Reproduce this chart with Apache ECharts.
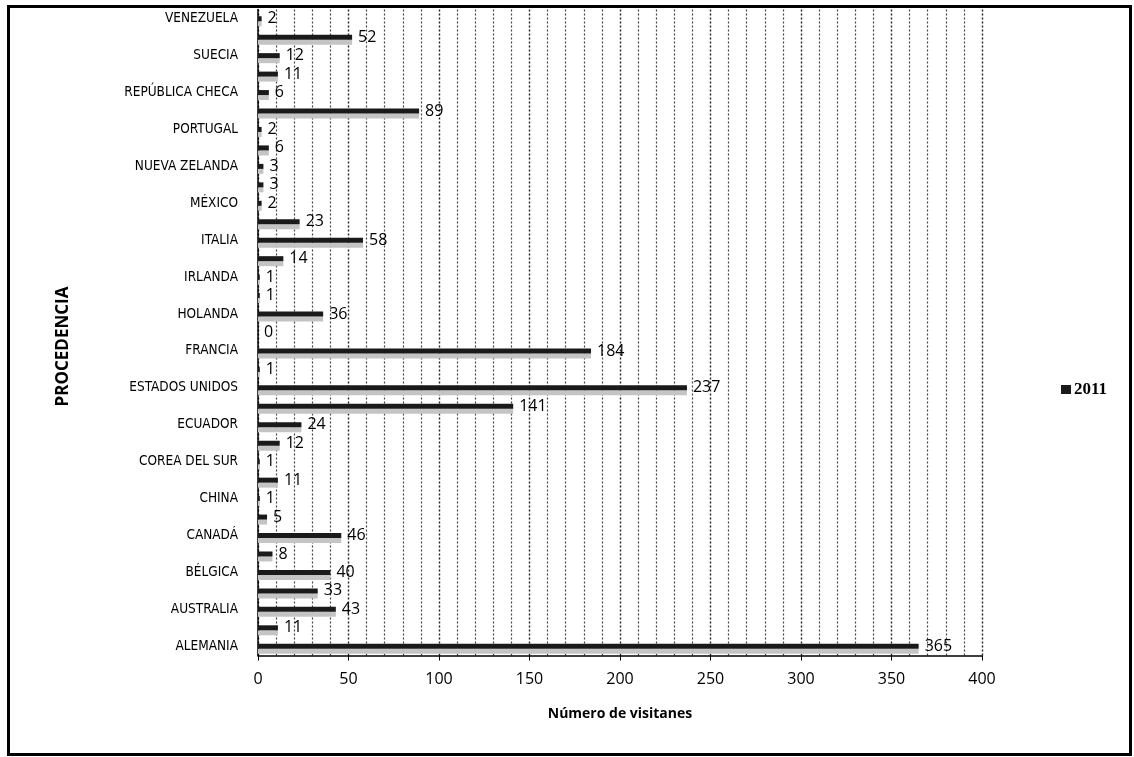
<!DOCTYPE html>
<html>
<head>
<meta charset="utf-8">
<script src="https://cdn.jsdelivr.net/npm/echarts@6/dist/echarts.min.js"></script>
<style>
html,body{margin:0;padding:0;background:#fff;}
#chart{width:1134px;height:757px;}
</style>
</head>
<body>
<div id="chart"></div>
<script>
// Categories bottom to top (only every other one is labelled in the original)
const categories = [
  'ALEMANIA','ARGENTINA','AUSTRALIA','AUSTRIA','BÉLGICA','BRASIL','CANADÁ','CHILE','CHINA','COLOMBIA',
  'COREA DEL SUR','DINAMARCA','ECUADOR','ESPAÑA','ESTADOS UNIDOS','FINLANDIA','FRANCIA','GRECIA','HOLANDA','INGLATERRA',
  'IRLANDA','ISRAEL','ITALIA','JAPÓN','MÉXICO','NORUEGA','NUEVA ZELANDA','PERÚ','PORTUGAL','REINO UNIDO',
  'REPÚBLICA CHECA','RUSIA','SUECIA','SUIZA','VENEZUELA'
];
const values2011 = [
  365, 11, 43, 33, 40, 8, 46, 5, 1, 11,
  1, 12, 24, 141, 237, 1, 184, 0, 36, 1,
  1, 14, 58, 23, 2, 3, 3, 6, 2, 89,
  6, 11, 12, 52, 2
];
const seriesName = '2011';
const xAxisTitle = 'Número de visitanes';
const yAxisTitle = 'PROCEDENCIA';

const chart = echarts.init(document.getElementById('chart'));
const font = '"Open Sans", "DejaVu Sans", sans-serif';
const narrow = '"DejaVu Sans Condensed", "Open Sans", sans-serif';
chart.setOption({
  animation: false,
  backgroundColor: '#fff',
  graphic: [{
    type: 'rect', left: 6, top: 4,
    shape: {width: 1122, height: 748},
    style: {fill: 'none', stroke: '#000', lineWidth: 3}
  }],
  legend: {
    left: 1056, top: 376, orient: 'vertical',
    itemWidth: 10, itemHeight: 9, icon: 'rect', itemGap: 4,
    textStyle: {fontFamily: '"Liberation Serif", serif', fontSize: 17, fontWeight: 'bold', color: '#000', padding: [0, 0, 0, -2]},
    data: [seriesName]
  },
  grid: {left: 258, right: 152, top: 9.5, bottom: 101.5, containLabel: false},
  xAxis: {
    type: 'value', min: 0, max: 400, interval: 50,
    name: xAxisTitle, nameLocation: 'middle', nameGap: 52,
    nameTextStyle: {fontFamily: font, fontSize: 14, fontWeight: 'bold', color: '#000'},
    axisLine: {show: true, lineStyle: {color: '#000', width: 1.5}},
    axisTick: {show: true, length: 5, lineStyle: {color: '#000'}},
    axisLabel: {fontFamily: font, fontSize: 16, color: '#000', margin: 16},
    splitLine: {show: true, lineStyle: {color: '#222', width: 1.4, type: [2, 2]}},
    minorTick: {show: false, splitNumber: 5},
    minorSplitLine: {show: true, lineStyle: {color: '#444', width: 1.2, type: [2, 2]}}
  },
  yAxis: {
    type: 'category', data: categories,
    name: yAxisTitle, nameLocation: 'middle', nameGap: 186, nameRotate: 90,
    nameTextStyle: {fontFamily: font, fontSize: 17, fontWeight: 'bold', color: '#000', padding: [0, 28, 0, 0]},
    axisLine: {show: true, lineStyle: {color: '#000', width: 1.5}},
    axisTick: {show: false},
    axisLabel: {interval: 1, fontFamily: narrow, fontSize: 13.5, color: '#000', margin: 20}
  },
  series: [{
    name: seriesName, type: 'bar', data: values2011,
    barWidth: 5,
    itemStyle: {color: '#1a1a1a', shadowColor: '#c4c4c4', shadowOffsetY: 5, shadowBlur: 0},
    label: {
      show: true, position: 'right', distance: 6,
      fontFamily: font, fontSize: 16, color: '#000'
    }
  }]
});
</script>
</body>
</html>
